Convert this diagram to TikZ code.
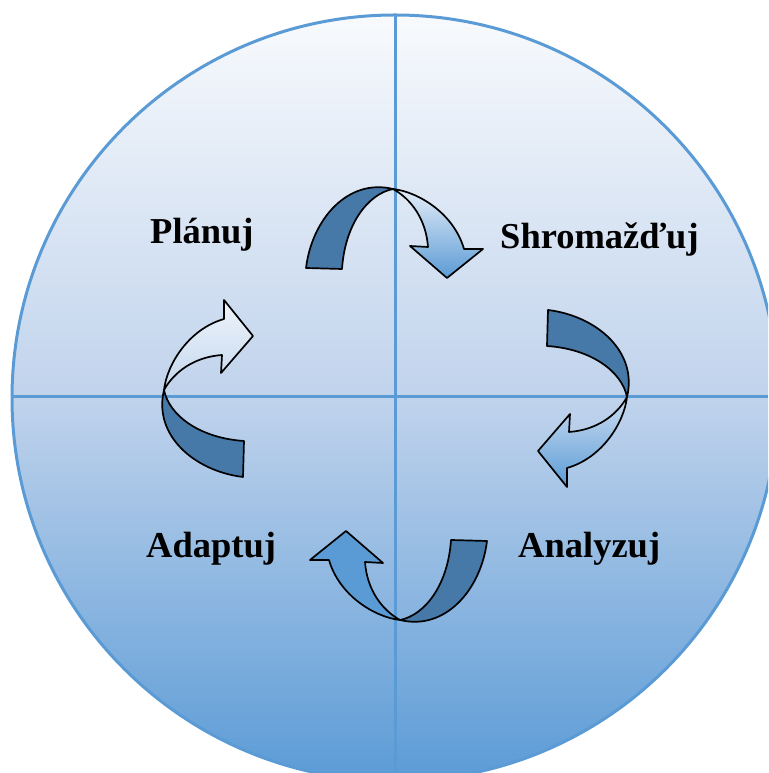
\documentclass[tikz,border=0pt]{standalone}
\usepackage{fontspec}
\setmainfont{Liberation Serif}
\usepackage{tikz}
\usetikzlibrary{positioning}

\definecolor{ring}{RGB}{91,155,213}
\definecolor{bgtop}{RGB}{248,250,253}
\definecolor{bgmid}{RGB}{192,211,236}
\definecolor{bgbot}{RGB}{91,155,214}
\definecolor{banddark}{RGB}{70,120,168}
\definecolor{bandlight}{RGB}{91,155,213}
\definecolor{paletop}{RGB}{228,237,248}
\definecolor{paleright}{RGB}{205,222,242}
\definecolor{paleleft}{RGB}{238,244,251}
\definecolor{paleleftbot}{RGB}{196,215,238}

% one twisted turn arrow: x, y, angle, top colour, bottom colour
\newcommand{\turnarrow}[5]{%
  \begin{scope}[shift={(#1,#2)}, rotate=#3]
    \filldraw[band, fill=banddark] (-87,-79) .. controls (-81,-30) and (-45,11) .. (0,0)
      .. controls (-25,-5) and (-48,-35) .. (-51,-80) -- cycle;
    \shadedraw[band, top color=#4, bottom color=#5] (0,0) .. controls (26,-3) and (61,-25) .. (71,-60)
      -- (90,-60) -- (54,-89) -- (17,-57) -- (35,-58) .. controls (33,-30) and (18,-10) .. (0,0) -- cycle;
  \end{scope}}

\begin{document}
\begin{tikzpicture}[x=1pt, y=1pt,
    band/.style={draw=black, line width=1.7pt, line join=round},
    label/.style={font=\fontsize{36.5}{40}\selectfont\bfseries, inner sep=0pt, anchor=base west},
]
\useasboundingbox (0,0) rectangle (768,773);
\clip (0,0) rectangle (768,773);

% background disc and cross
\shade[top color=bgtop, bottom color=bgbot, middle color=bgmid] (395,375) circle (383);
\begin{scope}
  \clip (395,375) circle (383);
  \draw[ring, line width=3pt] (395,0) -- (395,773);
  \draw[ring, line width=3pt] (0,376) -- (768,376);
\end{scope}
\draw[ring, line width=3pt] (395,375) circle (383);

% the four turns
\turnarrow{393}{584}{0}{paletop}{bandlight}
\turnarrow{627}{376}{-90}{paleright}{bandlight}
\turnarrow{400}{153}{180}{bandlight}{bandlight}
\turnarrow{164}{383}{90}{paleleft}{paleleftbot}

\node[label] (plan) at (150,529) {Plánuj};
\node[label] (gather) at (500,524) {Shromažďuj};
\node[label] (adapt) at (146,215) {Adaptuj};
\node[label] (analyse) at (518,215) {Analyzuj};
\end{tikzpicture}
\end{document}
